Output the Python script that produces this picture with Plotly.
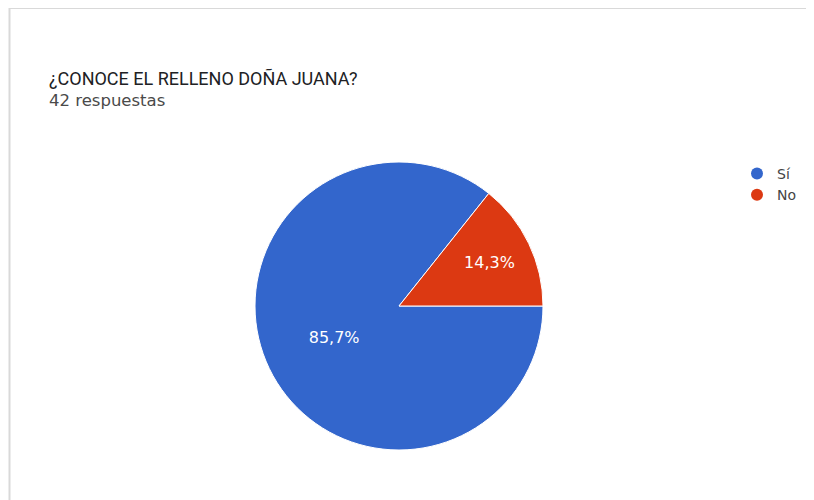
import plotly.graph_objects as go

labels = ["Sí", "No"]
values = [36, 6]
colors = ["#3366cc", "#dc3912"]
title_text = "¿CONOCE EL RELLENO DOÑA JUANA?"
subtitle_text = "42 respuestas"

# figure is drawn inside the page body (8px default margin)
W, H = 806, 492
total = sum(values)
texts = [f"{v / total * 100:.1f}%".replace(".", ",") for v in values]

cx, cy, r = 391, 298, 144  # pie center / radius in figure pixels

fig = go.Figure()
fig.add_trace(go.Pie(
    labels=labels, values=values, sort=False, direction="clockwise", rotation=90,
    marker=dict(colors=colors, line=dict(color="white", width=1)),
    text=texts, textinfo="text", textposition="inside", insidetextorientation="horizontal",
    textfont=dict(family="DejaVu Sans", size=16, color="white"),
    showlegend=False, hoverinfo="label+percent",
    domain=dict(x=[(cx - r) / W, (cx + r) / W], y=[(H - cy - r) / H, (H - cy + r) / H]),
))
for lab, col in zip(labels, colors):
    fig.add_trace(go.Scatter(x=[None], y=[None], mode="markers", name=lab,
                             marker=dict(symbol="circle", size=13, color=col)))

fig.update_layout(
    width=W, height=H, margin=dict(l=0, r=0, t=0, b=0),
    paper_bgcolor="white", plot_bgcolor="white",
    xaxis=dict(visible=False), yaxis=dict(visible=False),
    legend=dict(x=729 / W, y=1 - 150 / H, xanchor="left", yanchor="top",
                font=dict(family="DejaVu Sans", size=14, color="#444444"),
                itemsizing="constant", tracegroupgap=0, bgcolor="rgba(0,0,0,0)"),
    shapes=[dict(type="rect", xref="paper", yref="paper",
                 x0=1.5 / W, x1=1.02, y0=-0.02, y1=1,
                 line=dict(color="#d9d9d9", width=2))],
    annotations=[
        dict(text=title_text, x=39 / W, y=1 - 70 / H, xref="paper", yref="paper",
             xanchor="left", yanchor="middle", showarrow=False,
             font=dict(family="Roboto", size=18, color="#202124")),
        dict(text=subtitle_text, x=39 / W, y=1 - 93 / H, xref="paper", yref="paper",
             xanchor="left", yanchor="middle", showarrow=False,
             font=dict(family="DejaVu Sans", size=16.5, color="#4a4a4a")),
    ],
)
fig.write_html("out.html")
